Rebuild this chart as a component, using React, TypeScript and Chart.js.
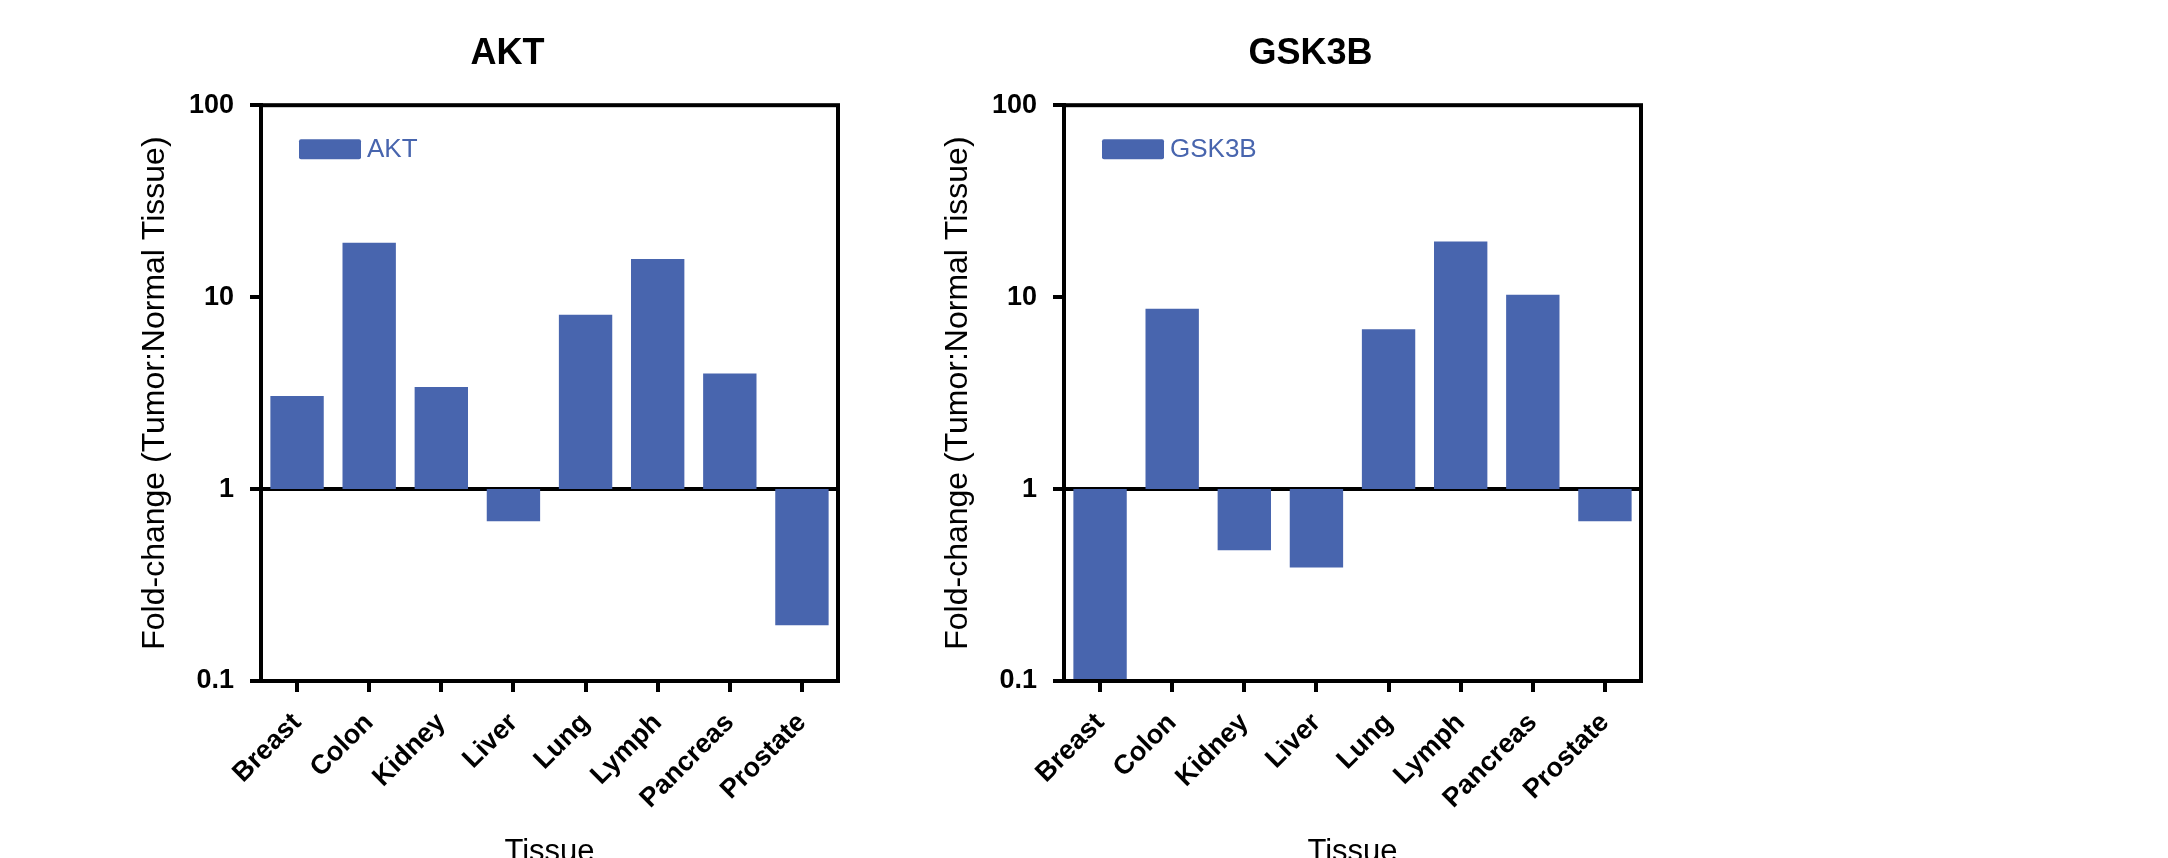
import React, { useEffect, useRef } from 'react';
import { Chart, registerables } from 'chart.js';

Chart.register(...registerables);

// ---- data ----
const categories = ['Breast', 'Colon', 'Kidney', 'Liver', 'Lung', 'Lymph', 'Pancreas', 'Prostate'];
const aktValues = [3.05, 19.2, 3.4, 0.68, 8.1, 15.8, 4.0, 0.195];
const gsk3bValues = [0.1, 8.7, 0.48, 0.39, 6.8, 19.5, 10.3, 0.68];
const yTickValues = [0.1, 1, 10, 100];
const baselineValue = 1;
const yAxisTitle = 'Fold-change (Tumor:Normal Tissue)';
const xAxisTitle = 'Tissue';

const FONT = "'Liberation Sans', Arial, Helvetica, sans-serif";
const BAR = '#4865ae';

// frame around the plot area
const framePlugin = {
  id: 'frame',
  afterDraw(chart: any) {
    const { ctx, chartArea: a } = chart;
    ctx.save();
    ctx.strokeStyle = '#000';
    ctx.lineWidth = 4;
    ctx.strokeRect(a.left, a.top, a.right - a.left, a.bottom - a.top);
    ctx.restore();
  },
};

// legend drawn inside the plot area, top-left
const insideLegendPlugin = {
  id: 'insideLegend',
  afterDraw(chart: any) {
    const { ctx, chartArea: a } = chart;
    const ds = chart.data.datasets[0];
    const bx = a.left + 38;
    const by = a.top + 34;
    const bw = 62;
    const bh = 20;
    ctx.save();
    ctx.fillStyle = ds.backgroundColor;
    ctx.beginPath();
    if ((ctx as any).roundRect) (ctx as any).roundRect(bx, by, bw, bh, 2);
    else ctx.rect(bx, by, bw, bh);
    ctx.fill();
    ctx.font = `26px ${FONT}`;
    ctx.textAlign = 'left';
    ctx.textBaseline = 'middle';
    ctx.fillStyle = ds.backgroundColor;
    ctx.fillText(ds.label, bx + bw + 6, by + bh / 2 + 1);
    ctx.restore();
  },
};

function FoldChart({ title, label, values, left }: { title: string; label: string; values: number[]; left: number }) {
  const ref = useRef<HTMLCanvasElement>(null);
  useEffect(() => {
    const chart = new Chart(ref.current as HTMLCanvasElement, {
      type: 'bar',
      data: {
        labels: categories,
        datasets: [
          {
            label,
            data: values.map((v) => [baselineValue, v]) as any,
            backgroundColor: BAR,
            borderWidth: 0,
            barPercentage: 0.74,
            categoryPercentage: 1,
          },
        ],
      },
      options: {
        animation: false,
        responsive: false,
        layout: { padding: { left: 177, right: 177, top: 0, bottom: 0 } },
        plugins: {
          title: {
            display: true,
            text: title,
            color: '#000',
            font: { family: FONT, size: 36, weight: 'bold' },
            padding: { top: 32, bottom: 30 },
          },
          legend: { display: false },
          tooltip: { enabled: false },
        },
        scales: {
          x: {
            grid: {
              display: true,
              drawOnChartArea: false,
              drawTicks: true,
              tickLength: 11,
              tickWidth: 4,
              tickColor: '#000',
              offset: false,
              lineWidth: 4,
              color: '#000',
            },
            border: { display: true, color: '#000', width: 4 },
            ticks: {
              color: '#000',
              font: { family: FONT, size: 27, weight: 'bold' },
              minRotation: 45,
              maxRotation: 45,
              autoSkip: false,
              padding: 15,
            },
            title: {
              display: true,
              text: xAxisTitle,
              color: '#000',
              font: { family: FONT, size: 31 },
              padding: { top: 0, bottom: -13 },
            },
            afterFit: (s: any) => {
              s.height = 177;
            },
          },
          y: {
            type: 'logarithmic',
            min: 0.1,
            max: 100,
            z: 1,
            afterBuildTicks: (s: any) => {
              s.ticks = yTickValues.map((v) => ({ value: v }));
            },
            grid: {
              color: (c: any) => (c.tick && c.tick.value === baselineValue ? '#000' : 'rgba(0,0,0,0)'),
              lineWidth: 4,
              tickColor: '#000',
              tickLength: 11,
              tickWidth: 4,
              drawTicks: true,
            },
            border: { display: true, color: '#000', width: 4 },
            ticks: {
              color: '#000',
              font: { family: FONT, size: 27, weight: 'bold' },
              padding: 16,
              callback: (v: any) => String(v),
            },
            title: {
              display: true,
              text: yAxisTitle,
              color: '#000',
              font: { family: FONT, size: 32 },
              padding: { top: -41, bottom: 0 },
            },
            afterFit: (s: any) => {
              s.width = 84;
            },
          },
        },
      } as any,
      plugins: [framePlugin, insideLegendPlugin],
    });
    return () => chart.destroy();
  }, []);
  return (
    <canvas
      ref={ref}
      width={1015}
      height={858}
      style={{ position: 'fixed', left, top: 0, width: 1015, height: 858 }}
    />
  );
}

export default function App() {
  return (
    <div>
      <FoldChart title="AKT" label="AKT" values={aktValues} left={0} />
      <FoldChart title="GSK3B" label="GSK3B" values={gsk3bValues} left={803} />
    </div>
  );
}
